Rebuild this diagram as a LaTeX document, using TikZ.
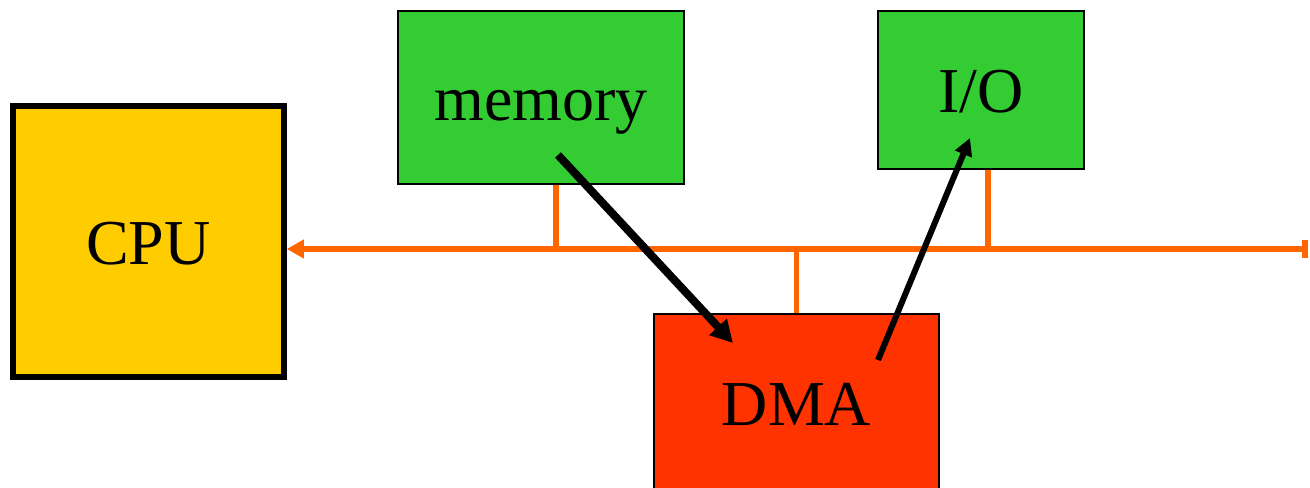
\documentclass[tikz,border=0pt]{standalone}
\usepackage{fontspec}
\setmainfont{Liberation Serif}
\usetikzlibrary{arrows.meta}

\definecolor{cpuyellow}{HTML}{FFCC00}
\definecolor{memgreen}{HTML}{33CC33}
\definecolor{dmared}{HTML}{FF3300}
\definecolor{busorange}{HTML}{FF6600}

\tikzset{
  unit/.style={draw=black, line width=1.5pt, inner sep=0pt,
    text height=34.5pt, text depth=0pt,
    font=\fontsize{48}{50}\selectfont},
  bus/.style={draw=busorange, line width=4.25pt},
  flow/.style={draw=black, line width=4.5pt}
}

\begin{document}
\begin{tikzpicture}[x=.75pt,y=-.75pt]
  \clip (0,0) rectangle (1310,488);
  % units on the bus
  \node[unit, fill=cpuyellow, line width=4.5pt, minimum width=203pt, minimum height=203pt] (cpu) at (148.5,241.5) {CPU};
  \node[unit, fill=memgreen, minimum width=214.5pt, minimum height=129.75pt] (mem) at (541,97.5) {memory};
  \node[unit, fill=memgreen, minimum width=154.5pt, minimum height=118.5pt] (io) at (981,90) {I/O};
  \node[unit, fill=dmared, minimum width=213.75pt, minimum height=132pt] (dma) at (796.5,402) {DMA};

  % system bus and taps
  \coordinate (busR) at (1308,249);
  \draw[bus, {Triangle[length=12.75pt,width=13.5pt]}-{Bar[width=13.5pt]}] (cpu.east |- busR) -- (busR);
  \draw[bus] (mem.south) ++(15,0) coordinate (memtap) -- (memtap |- busR);
  \draw[bus] (io.south) ++(7,0) coordinate (iotap) -- (iotap |- busR);
  \draw[bus] (dma.north) -- (dma.north |- busR);

  % transfer path
  \draw[flow, line width=6pt, -{Triangle[length=16.5pt,width=17pt]}]
    ([shift={(17,57.5)}]mem.center) -- ([shift={(-63.5,-59)}]dma.center);
  \draw[flow, -{Triangle[length=13pt,width=13pt]}]
    ([shift={(81.5,-42)}]dma.center) -- ([shift={(-11,48)}]io.center);
\end{tikzpicture}
\end{document}
